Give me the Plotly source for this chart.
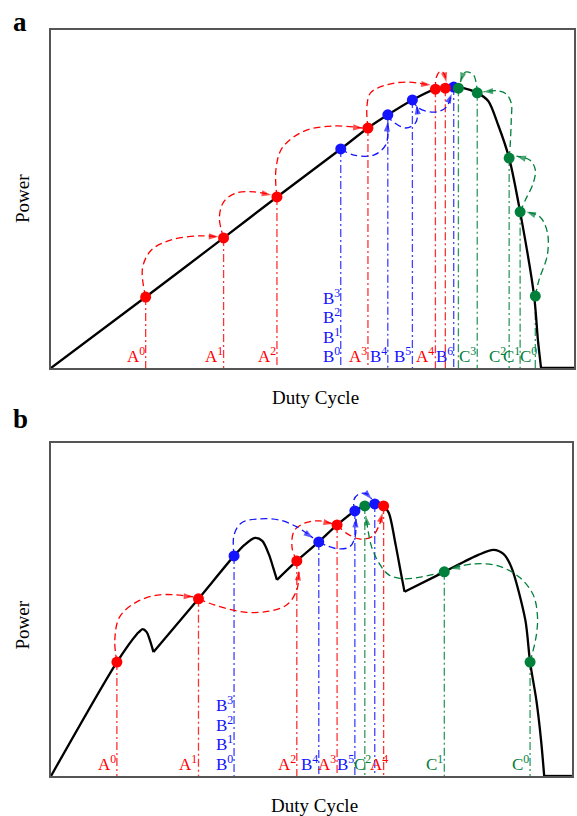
import plotly.graph_objects as go

# ---------------- Panel a data (normalized duty cycle / power) ----------------
a_curve_x = [0.000, 0.181, 0.330, 0.432, 0.554, 0.606, 0.644, 0.691, 0.735, 0.770,
             0.789, 0.815, 0.836, 0.855, 0.876, 0.897, 0.924, 0.931, 0.937, 1.000]
a_curve_y = [0.000, 0.210, 0.385, 0.506, 0.648, 0.710, 0.749, 0.793, 0.825, 0.831,
             0.828, 0.814, 0.790, 0.719, 0.621, 0.462, 0.210, 0.083, 0.000, 0.000]
a_corners = [18]

a_A_x = [0.181, 0.330, 0.432, 0.606, 0.735, 0.754]
a_A_y = [0.210, 0.385, 0.506, 0.710, 0.825, 0.828]
a_A_lbl = ["A<sup>0</sup>", "A<sup>1</sup>", "A<sup>2</sup>", "A<sup>3</sup>", "A<sup>4</sup>", None]

a_B_x = [0.554, 0.644, 0.691, 0.770]
a_B_y = [0.648, 0.749, 0.793, 0.831]
a_B_lbl = ["B<sup>0</sup>", "B<sup>4</sup>", "B<sup>5</sup>", "B<sup>6</sup>"]

a_C_x = [0.926, 0.897, 0.876, 0.815, 0.779]
a_C_y = [0.213, 0.462, 0.621, 0.814, 0.828]
a_C_lbl = ["C<sup>0</sup>", "C<sup>1</sup>", "C<sup>2</sup>", "C<sup>3</sup>", None]

B_stack = ["B<sup>1</sup>", "B<sup>2</sup>", "B<sup>3</sup>"]

# search-step paths (tail ... head)
a_A_paths = [
    ([0.181, 0.175, 0.192, 0.230, 0.284, 0.320], [0.210, 0.296, 0.349, 0.379, 0.391, 0.388]),
    ([0.330, 0.322, 0.330, 0.354, 0.389, 0.421], [0.385, 0.444, 0.491, 0.518, 0.521, 0.512]),
    ([0.432, 0.430, 0.442, 0.484, 0.541, 0.596], [0.506, 0.586, 0.651, 0.701, 0.716, 0.710]),
    ([0.606, 0.604, 0.611, 0.640, 0.678, 0.726], [0.710, 0.772, 0.814, 0.837, 0.846, 0.837]),
    ([0.735, 0.737, 0.745, 0.752, 0.756], [0.825, 0.861, 0.879, 0.870, 0.846]),
]
a_B_paths = [
    ([0.554, 0.579, 0.617, 0.640, 0.644], [0.648, 0.630, 0.630, 0.660, 0.728]),
    ([0.644, 0.650, 0.678, 0.697, 0.701, 0.699], [0.749, 0.734, 0.710, 0.725, 0.754, 0.778]),
    ([0.691, 0.703, 0.735, 0.756, 0.766], [0.793, 0.769, 0.757, 0.772, 0.811]),
]
a_C_paths = [
    ([0.926, 0.933, 0.949, 0.949, 0.935, 0.909], [0.213, 0.260, 0.334, 0.402, 0.447, 0.462]),
    ([0.897, 0.907, 0.922, 0.926, 0.916, 0.890], [0.462, 0.497, 0.547, 0.586, 0.615, 0.627]),
    ([0.876, 0.878, 0.880, 0.880, 0.870, 0.855, 0.827], [0.621, 0.660, 0.734, 0.784, 0.811, 0.820, 0.817]),
    ([0.815, 0.813, 0.808, 0.794, 0.787, 0.783], [0.814, 0.843, 0.867, 0.876, 0.867, 0.846]),
]

# ---------------- Panel b data ----------------
b_curve_x = [0.000, 0.126, 0.164, 0.168, 0.175, 0.183, 0.189, 0.196, 0.282, 0.350,
             0.370, 0.390, 0.404, 0.417, 0.425, 0.432, 0.470, 0.512, 0.547, 0.581,
             0.600, 0.619, 0.629, 0.636, 0.646, 0.659, 0.669, 0.676, 0.752, 0.817,
             0.846, 0.865, 0.880, 0.907, 0.916, 0.928, 0.937, 0.943, 0.996]
b_curve_y = [0.000, 0.342, 0.426, 0.432, 0.441, 0.432, 0.408, 0.372, 0.532, 0.661,
             0.694, 0.715, 0.706, 0.664, 0.625, 0.589, 0.646, 0.703, 0.754, 0.796,
             0.811, 0.817, 0.820, 0.811, 0.790, 0.694, 0.610, 0.553, 0.613, 0.664,
             0.679, 0.667, 0.628, 0.468, 0.342, 0.228, 0.108, 0.000, 0.000]
b_corners = [7, 15, 27, 37]

b_A_x = [0.126, 0.282, 0.470, 0.547, 0.636]
b_A_y = [0.342, 0.532, 0.646, 0.754, 0.811]
b_A_lbl = ["A<sup>0</sup>", "A<sup>1</sup>", "A<sup>2</sup>", "A<sup>3</sup>", "A<sup>4</sup>"]

b_B_x = [0.350, 0.512, 0.581, 0.619]
b_B_y = [0.661, 0.703, 0.796, 0.817]
b_B_lbl = ["B<sup>0</sup>", "B<sup>4</sup>", "B<sup>5</sup>", None]

b_C_x = [0.916, 0.752, 0.600]
b_C_y = [0.342, 0.613, 0.811]
b_C_lbl = ["C<sup>0</sup>", "C<sup>1</sup>", "C<sup>2</sup>"]

b_A_paths = [
    ([0.126, 0.122, 0.131, 0.164, 0.208, 0.272], [0.342, 0.408, 0.477, 0.523, 0.544, 0.538]),
    ([0.282, 0.312, 0.370, 0.417, 0.451, 0.470, 0.474], [0.532, 0.514, 0.492, 0.495, 0.514, 0.559, 0.616]),
    ([0.470, 0.461, 0.465, 0.486, 0.512, 0.539], [0.646, 0.685, 0.736, 0.760, 0.766, 0.757]),
    ([0.547, 0.564, 0.589, 0.613, 0.627, 0.634], [0.754, 0.730, 0.712, 0.718, 0.751, 0.790]),
]
b_B_paths = [
    ([0.350, 0.350, 0.364, 0.398, 0.436, 0.470, 0.501], [0.661, 0.724, 0.760, 0.772, 0.769, 0.748, 0.715]),
    ([0.512, 0.528, 0.550, 0.571, 0.581, 0.583], [0.703, 0.691, 0.682, 0.688, 0.715, 0.775]),
    ([0.581, 0.579, 0.589, 0.604, 0.613], [0.796, 0.829, 0.847, 0.847, 0.832]),
]
b_C_paths = [
    ([0.916, 0.928, 0.930, 0.922, 0.897, 0.855, 0.808, 0.764], [0.342, 0.423, 0.483, 0.544, 0.595, 0.631, 0.637, 0.622]),
    ([0.752, 0.709, 0.674, 0.646, 0.627, 0.613, 0.606, 0.602], [0.613, 0.598, 0.592, 0.604, 0.640, 0.688, 0.739, 0.781]),
]

# ---------------- styling ----------------
RED = "#FF0000"
BLUE = "#1414FF"
GREEN = "#00803A"
FONT = "Liberation Serif"
LBL_SIZE = 17

fig = go.Figure()


def add_curve(xs, ys, corners, xa, ya):
    start = 0
    for c in corners + [len(xs) - 1]:
        fig.add_trace(go.Scatter(
            x=xs[start:c + 1], y=ys[start:c + 1], mode="lines",
            line=dict(color="black", width=2.3, shape="spline", smoothing=0.8),
            xaxis=xa, yaxis=ya, hoverinfo="skip", showlegend=False))
        start = c


def add_drops(xs, ys, color, xa, ya):
    vx, vy = [], []
    for x, y in zip(xs, ys):
        vx += [x, x, None]
        vy += [y, 0, None]
    fig.add_trace(go.Scatter(
        x=vx, y=vy, mode="lines", opacity=0.8,
        line=dict(color=color, width=1.3, dash="8px,3px,2px,3px"),
        xaxis=xa, yaxis=ya, hoverinfo="skip", showlegend=False))


def add_paths(paths, color, xa, ya):
    for px, py in paths:
        n = len(px)
        fig.add_trace(go.Scatter(
            x=px, y=py, mode="lines+markers",
            line=dict(color=color, width=1.3, dash="7px,4px", shape="spline", smoothing=1.0),
            marker=dict(symbol="arrow", size=[0] * (n - 1) + [10], angleref="previous",
                        color=color, line=dict(width=0)),
            xaxis=xa, yaxis=ya, hoverinfo="skip", showlegend=False))


def add_dots(xs, ys, color, xa, ya):
    fig.add_trace(go.Scatter(
        x=xs, y=ys, mode="markers",
        marker=dict(color=color, size=11, line=dict(width=0)),
        xaxis=xa, yaxis=ya, hoverinfo="skip", showlegend=False))


def add_labels(xs, labels, color, xa, ya, nudges=None):
    nudges = nudges or {}
    for i, (x, t) in enumerate(zip(xs, labels)):
        if t is None:
            continue
        fig.add_annotation(x=x, y=0, xref=xa, yref=ya, text=t, showarrow=False,
                           xanchor="right", yanchor="bottom", xshift=1 + nudges.get(i, 0),
                           yshift=0, font=dict(family=FONT, size=LBL_SIZE, color=color))


def add_stack(x, color, xa, ya):
    for k, t in enumerate(B_stack):
        fig.add_annotation(x=x, y=0, xref=xa, yref=ya, text=t, showarrow=False,
                           xanchor="right", yanchor="bottom", xshift=1, yshift=19.5 * (k + 1),
                           font=dict(family=FONT, size=LBL_SIZE, color=color))


# panel a
add_drops(a_A_x, a_A_y, RED, "x", "y")
add_drops(a_B_x, a_B_y, BLUE, "x", "y")
add_drops(a_C_x, a_C_y, GREEN, "x", "y")
add_curve(a_curve_x, a_curve_y, a_corners, "x", "y")
add_paths(a_A_paths, RED, "x", "y")
add_paths(a_B_paths, BLUE, "x", "y")
add_paths(a_C_paths, GREEN, "x", "y")
add_dots(a_B_x, a_B_y, BLUE, "x", "y")
add_dots(a_A_x, a_A_y, RED, "x", "y")
add_dots(a_C_x, a_C_y, GREEN, "x", "y")
add_labels(a_A_x, a_A_lbl, RED, "x", "y")
add_labels(a_B_x, a_B_lbl, BLUE, "x", "y")
add_labels(a_C_x, a_C_lbl, GREEN, "x", "y", {0: 3, 1: 1, 2: -2})
add_stack(a_B_x[0], BLUE, "x", "y")

# panel b
add_drops(b_A_x, b_A_y, RED, "x2", "y2")
add_drops(b_B_x, b_B_y, BLUE, "x2", "y2")
add_drops(b_C_x, b_C_y, GREEN, "x2", "y2")
add_curve(b_curve_x, b_curve_y, b_corners, "x2", "y2")
add_paths(b_A_paths, RED, "x2", "y2")
add_paths(b_B_paths, BLUE, "x2", "y2")
add_paths(b_C_paths, GREEN, "x2", "y2")
add_dots(b_C_x, b_C_y, GREEN, "x2", "y2")
add_dots(b_B_x, b_B_y, BLUE, "x2", "y2")
add_dots(b_A_x, b_A_y, RED, "x2", "y2")
add_labels(b_A_x, b_A_lbl, RED, "x2", "y2", {4: 5})
add_labels(b_B_x, b_B_lbl, BLUE, "x2", "y2")
add_labels(b_C_x, b_C_lbl, GREEN, "x2", "y2", {2: 7})
add_stack(b_B_x[0], BLUE, "x2", "y2")

# axis titles and panel letters
for xa, ya, letter, lshift, pshift in [("x", "y", "a", 8, 0), ("x2", "y2", "b", 24, -16)]:
    fig.add_annotation(x=0.5, y=0, xref=xa + " domain", yref=ya + " domain", text="Duty Cycle",
                       showarrow=False, xanchor="center", yanchor="middle", yshift=-29, xshift=3,
                       font=dict(family=FONT, size=19, color="black"))
    fig.add_annotation(x=0, y=0.5, xref=xa + " domain", yref=ya + " domain", text="Power",
                       showarrow=False, textangle=-90, xanchor="center", yanchor="middle",
                       xshift=-29, yshift=pshift, font=dict(family=FONT, size=19, color="black"))
    fig.add_annotation(x=0, y=1, xref=xa + " domain", yref=ya + " domain", text="<b>" + letter + "</b>",
                       showarrow=False, xanchor="center", yanchor="middle", xshift=-31, yshift=lshift,
                       font=dict(family=FONT, size=27, color="black"))

ax_common = dict(showgrid=False, zeroline=False, showticklabels=False, ticks="",
                 showline=True, mirror=True, linecolor="#555555", linewidth=1.5)

fig.update_layout(
    width=577, height=816, margin=dict(l=51, r=1, t=30, b=40),
    plot_bgcolor="white", paper_bgcolor="white", showlegend=False,
    xaxis=dict(domain=[0, 1], range=[0, 1], anchor="y", **ax_common),
    yaxis=dict(domain=[0.5469, 1], range=[0, 1], anchor="x", **ax_common),
    xaxis2=dict(domain=[0, 0.9962], range=[0, 0.9962], anchor="y2", **ax_common),
    yaxis2=dict(domain=[0, 0.4464], range=[0, 1], anchor="x2", **ax_common),
)

fig.write_html("out.html")
